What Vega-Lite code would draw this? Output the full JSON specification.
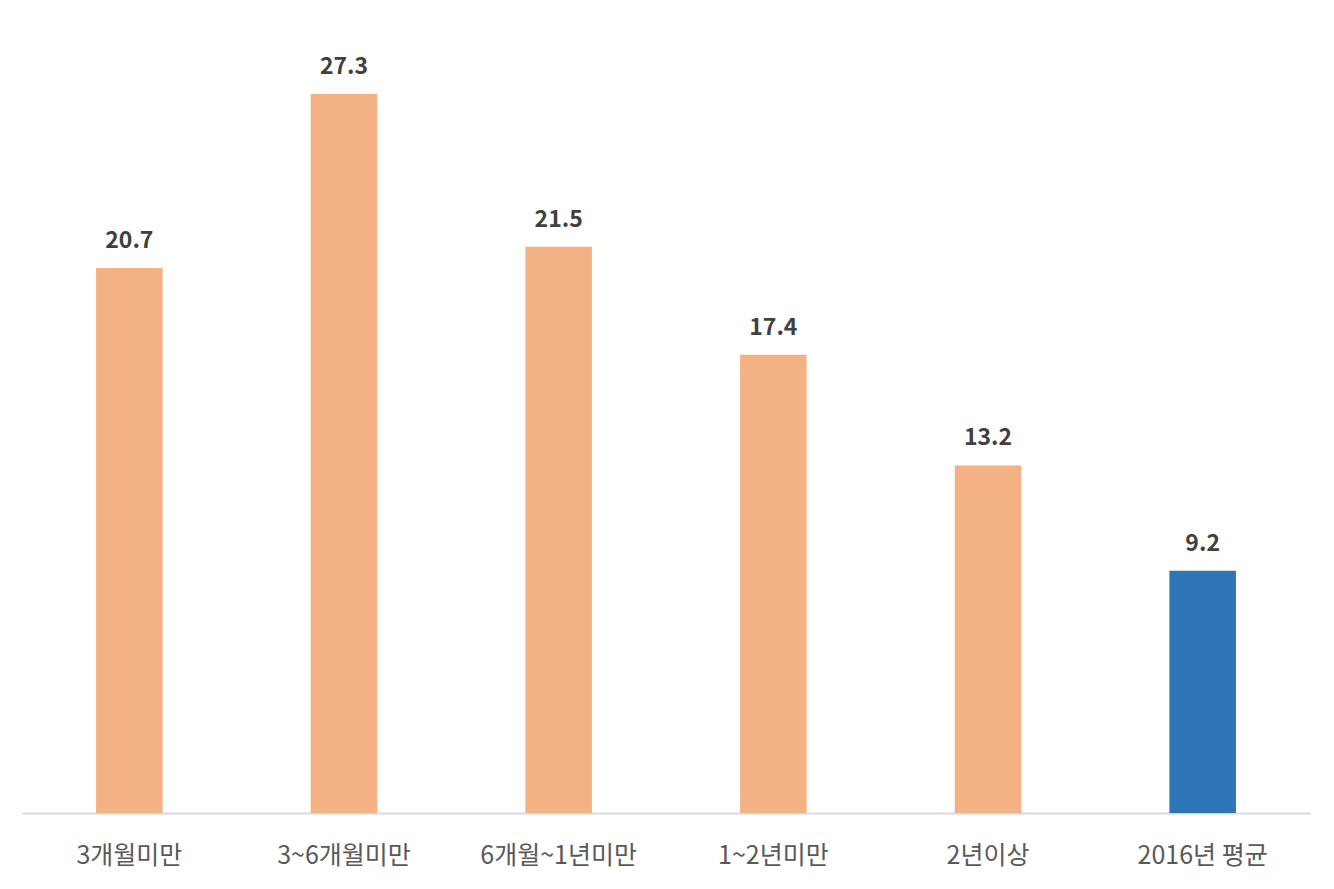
{
  "$schema": "https://vega.github.io/schema/vega-lite/v6.json",
  "autosize": {"type": "none"},
  "padding": {"left": 22, "top": 23, "right": 24, "bottom": 76},
  "width": 1288,
  "height": 790,
  "background": "white",
  "config": {"view": {"stroke": null}, "font": "Noto Sans CJK KR"},
  "data": {"values": [
    {"category": "3개월미만", "value": 20.7, "group": "a"},
    {"category": "3~6개월미만", "value": 27.3, "group": "a"},
    {"category": "6개월~1년미만", "value": 21.5, "group": "a"},
    {"category": "1~2년미만", "value": 17.4, "group": "a"},
    {"category": "2년이상", "value": 13.2, "group": "a"},
    {"category": "2016년 평균", "value": 9.2, "group": "b"}
  ]},
  "encoding": {
    "x": {"field": "category", "type": "nominal", "sort": null,
      "scale": {"paddingInner": 0.69, "paddingOuter": 0.345},
      "axis": {"title": null, "labelAngle": 0, "labelFontSize": 25, "labelColor": "#595959", "labelPadding": 30, "ticks": false, "domainColor": "#d9d9d9", "domainWidth": 2, "labelFont": "Noto Sans CJK KR"}},
    "y": {"field": "value", "type": "quantitative", "scale": {"domain": [0, 30]}, "axis": null}
  },
  "layer": [
    {"mark": {"type": "bar"},
     "encoding": {"color": {"field": "group", "type": "nominal", "scale": {"domain": ["a", "b"], "range": ["#F4B183", "#2E75B6"]}, "legend": null}}},
    {"mark": {"type": "text", "dy": -27, "fontSize": 23, "fontWeight": "bold", "color": "#404040", "font": "Noto Sans CJK KR"},
     "encoding": {"text": {"field": "value", "type": "quantitative", "format": ".1f"}}}
  ]
}
